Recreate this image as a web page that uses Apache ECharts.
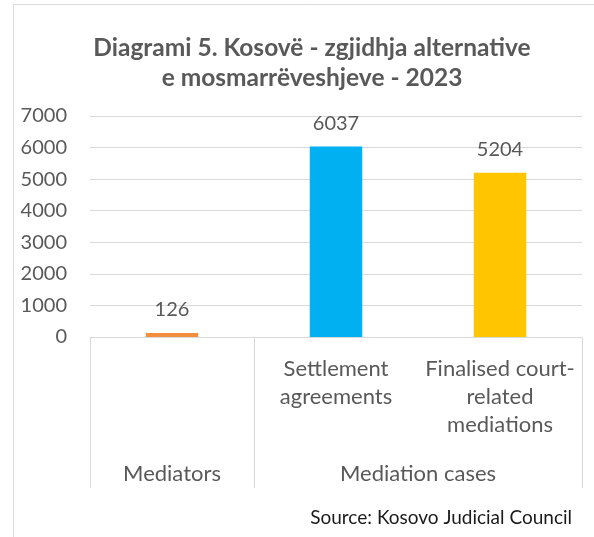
<!DOCTYPE html>
<html>
<head>
<meta charset="utf-8">
<script src="https://cdn.jsdelivr.net/npm/echarts@6/dist/echarts.min.js"></script>
<style>
  html, body { margin: 0; padding: 0; background: #fff; }
  #container { width: 594px; height: 537px; }
</style>
</head>
<body>
<div id="container"></div>
<script>
;(function() {

  // chart data
  var categories = ['', 'Settlement\nagreements', 'Finalised court-\nrelated\nmediations']
  var values = [126, 6037, 5204]
  var groups = ['Mediators', 'Mediation cases']
  var groupSizes = [1, 2]
  var yMax = 7000
  var yStep = 1000

  var barColors = ['#F28E3C', '#00B0F0', '#FFC600']
  var textColor = '#595959'
  var lineColor = '#d9d9d9'
  var font = 'Lato'

  // group boundaries and centres on a 0..n value scale
  var bounds = [0]
  var centres = []
  for (var i = 0; i < groupSizes.length; i++) {
    var start = bounds[bounds.length - 1]
    centres.push(start + groupSizes[i] / 2)
    bounds.push(start + groupSizes[i])
  }

  var dom = document.getElementById('container')
  var myChart = echarts.init(dom)

  var option = {
    backgroundColor: '#fff',
    animation: false,
    title: {
      text: 'Diagrami 5. Kosovë - zgjidhja alternative\ne mosmarrëveshjeve - 2023',
      left: 307,
      textAlign: 'center',
      top: 28,
      textStyle: {
        fontFamily: font,
        fontSize: 24.5,
        fontWeight: 'bold',
        color: textColor,
        lineHeight: 30
      }
    },
    graphic: [
      {
        type: 'rect',
        z: -10,
        shape: { x: 13.5, y: 4.5, width: 700, height: 700 },
        style: { fill: 'none', stroke: lineColor, lineWidth: 1 }
      },
      {
        type: 'text',
        right: 22,
        top: 508,
        style: {
          text: 'Source: Kosovo Judicial Council',
          fontFamily: font,
          fontSize: 19,
          fill: '#1a1a1a'
        }
      }
    ],
    grid: {
      left: 90,
      right: 12,
      top: 116,
      bottom: 200,
      containLabel: false
    },
    xAxis: [
      {
        type: 'category',
        data: categories,
        axisLine: { show: true, lineStyle: { color: lineColor, width: 1 } },
        axisTick: { show: false },
        axisLabel: {
          interval: 0,
          margin: 18,
          fontFamily: font,
          fontSize: 22,
          lineHeight: 28,
          color: textColor,
          align: 'center'
        }
      },
      {
        type: 'value',
        position: 'bottom',
        min: 0,
        max: bounds[bounds.length - 1],
        axisLine: { show: false },
        splitLine: { show: false },
        axisTick: {
          show: true,
          length: 151,
          customValues: bounds,
          lineStyle: { color: lineColor, width: 1 }
        },
        axisLabel: {
          customValues: centres,
          margin: 123,
          fontFamily: font,
          fontSize: 22,
          lineHeight: 28,
          color: textColor,
          formatter: function(v) {
            var k = centres.indexOf(v)
            return k >= 0 ? groups[k] : ''
          }
        }
      }
    ],
    yAxis: {
      type: 'value',
      min: 0,
      max: yMax,
      interval: yStep,
      axisLine: { show: false },
      axisTick: { show: false },
      splitLine: { lineStyle: { color: lineColor, width: 1 } },
      axisLabel: {
        margin: 23,
        fontFamily: font,
        fontSize: 20,
        color: textColor,
        formatter: function(v) { return String(v) }
      }
    },
    series: [
      {
        type: 'bar',
        xAxisIndex: 0,
        barWidth: '32%',
        data: values.map(function(v, i) {
          return { value: v, itemStyle: { color: barColors[i] } }
        }),
        label: {
          show: true,
          position: 'top',
          distance: 13,
          fontFamily: font,
          fontSize: 20,
          color: textColor
        }
      }
    ]
  }

  myChart.setOption(option, true)
})()
</script>
</body>
</html>
